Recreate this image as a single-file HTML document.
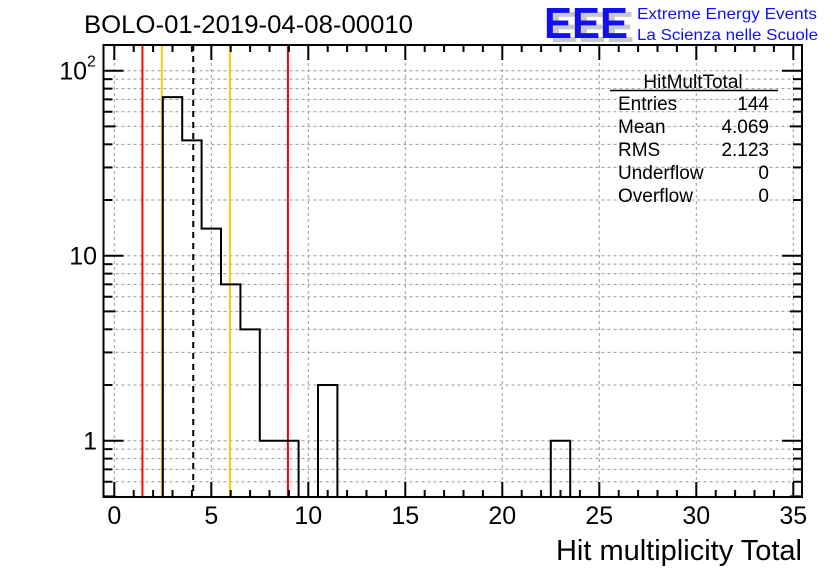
<!DOCTYPE html>
<html><head><meta charset="utf-8"><style>
body{margin:0;background:#fff;}
svg{display:block;font-family:"Liberation Sans",sans-serif;}
</style></head><body>
<svg id="chart" width="836" height="572" viewBox="0 0 836 572">
<text x="84" y="33" font-size="25" textLength="329" lengthAdjust="spacingAndGlyphs" fill="#000">BOLO-01-2019-04-08-00010</text>
<g>
<text x="550" y="42" font-size="44" font-weight="bold" fill="#c8c8c8" textLength="84" lengthAdjust="spacingAndGlyphs">EEE</text>
<text x="544" y="38" font-size="44" font-weight="bold" fill="#1010f0" textLength="84" lengthAdjust="spacingAndGlyphs">EEE</text>
<text x="637" y="19" font-size="16" fill="#1010f0" textLength="180" lengthAdjust="spacingAndGlyphs">Extreme Energy Events</text>
<text x="637" y="40" font-size="16" fill="#1010f0" textLength="181" lengthAdjust="spacingAndGlyphs">La Scienza nelle Scuole</text>
</g>
<g id="grid"></g>
<g id="marks"></g>
<rect x="103.5" y="45" width="698.5" height="452" fill="none" stroke="#000" stroke-width="2"/>
<g id="axes"></g>
<g font-size="19" fill="#000">
<text x="693" y="88" text-anchor="middle">HitMultTotal</text>
<line x1="610" y1="90.5" x2="778" y2="90.5" stroke="#000" stroke-width="1.5"/>
<text x="618" y="110">Entries</text><text x="769" y="110" text-anchor="end">144</text>
<text x="618" y="133">Mean</text><text x="769" y="133" text-anchor="end">4.069</text>
<text x="618" y="156">RMS</text><text x="769" y="156" text-anchor="end">2.123</text>
<text x="618" y="179">Underflow</text><text x="769" y="179" text-anchor="end">0</text>
<text x="618" y="202">Overflow</text><text x="769" y="202" text-anchor="end">0</text>
</g>
<text x="802" y="560" font-size="29" text-anchor="end">Hit multiplicity Total</text>
</svg>
<script>
const binCenters=[3,4,5,6,7,8,9,11,23];
const binCounts=[72,42,14,7,4,1,1,2,1];
const xTicks=[0,5,10,15,20,25,30,35];
const yTickValues=[1,10,100];
const yTickLabels=["1","10","10"];
const redLines=[1.45,8.95];
const orangeLines=[2.45,5.96];
const meanValue=4.069;

const NS="http://www.w3.org/2000/svg";
const L=103.5,R=802,T=45,B=497;
function px(v){return 114.3+19.4*v;}
function py(v){return 440.7-185*Math.log10(v);}
function mk(tag,attrs,parent){const e=document.createElementNS(NS,tag);for(const k in attrs)e.setAttribute(k,attrs[k]);parent.appendChild(e);return e;}
const grid=document.getElementById('grid'),marks=document.getElementById('marks'),axes=document.getElementById('axes');
for(const t of xTicks){const g=mk('line',{x1:px(t),x2:px(t),y1:T,y2:B,stroke:'#999','stroke-dasharray':'3,3','stroke-width':1},grid);

}
const decades=[0.1,1,10,100];
for(const d of decades){for(let m=1;m<10;m++){const v=Math.round(d*m*1000)/1000;const y=py(v);if(y>B-0.5||y<T+0.5)continue;
const g=mk('line',{x1:L,x2:R,y1:y,y2:y,stroke:'#999','stroke-dasharray':'3,3','stroke-width':1},grid);


const major=(m===1);
const tl=mk('line',{x1:L,x2:L+(major?20:(m===5?12:9)),y1:y,y2:y,stroke:'#000','stroke-width':2},axes);


const tr=mk('line',{x1:R,x2:R-(major?20:(m===5?12:9)),y1:y,y2:y,stroke:'#000','stroke-width':2},axes);

}}
for(const v of redLines){const l=mk('line',{x1:px(v),x2:px(v),y1:T,y2:B,stroke:'#ff0000','stroke-width':2},marks);

}
for(const v of orangeLines){const l=mk('line',{x1:px(v),x2:px(v),y1:T,y2:B,stroke:'#ffcc00','stroke-width':2},marks);

}
const ml=mk('line',{x1:px(meanValue),x2:px(meanValue),y1:T,y2:B,stroke:'#000','stroke-width':2,'stroke-dasharray':'6,5'},marks);


const counts={};binCenters.forEach((c,i)=>counts[c]=binCounts[i]);
const first=Math.min(...binCenters),last=Math.max(...binCenters);
let d=`M${px(first-0.5)},${B}`;
for(let c=first;c<=last;c++){const n=counts[c]||0;const y=n>0?py(n):B;d+=`V${y}H${px(c+0.5)}`;}
d+=`V${B}`;
const h=mk('path',{d:d,fill:'none',stroke:'#000','stroke-width':2},marks);


for(let v=0;v<=35;v++){const major=v%5===0;const len=major?15:7;
const a=mk('line',{x1:px(v),x2:px(v),y1:B,y2:B-len,stroke:'#000','stroke-width':2},axes);


const b=mk('line',{x1:px(v),x2:px(v),y1:T,y2:T+len,stroke:'#000','stroke-width':2},axes);

}
for(const t of xTicks){const tx=mk('text',{x:px(t),y:524,'font-size':25,'text-anchor':'middle'},axes);tx.textContent=t;

}
yTickValues.forEach((v,i)=>{const tx=mk('text',{x:v===100?87:97,y:py(v)+9,'font-size':25,'text-anchor':'end'},axes);tx.textContent=yTickLabels[i];


if(v===100){const s=mk('text',{x:87,y:py(v)-4,'font-size':16},axes);s.textContent='2';

}});
</script>
</body></html>
